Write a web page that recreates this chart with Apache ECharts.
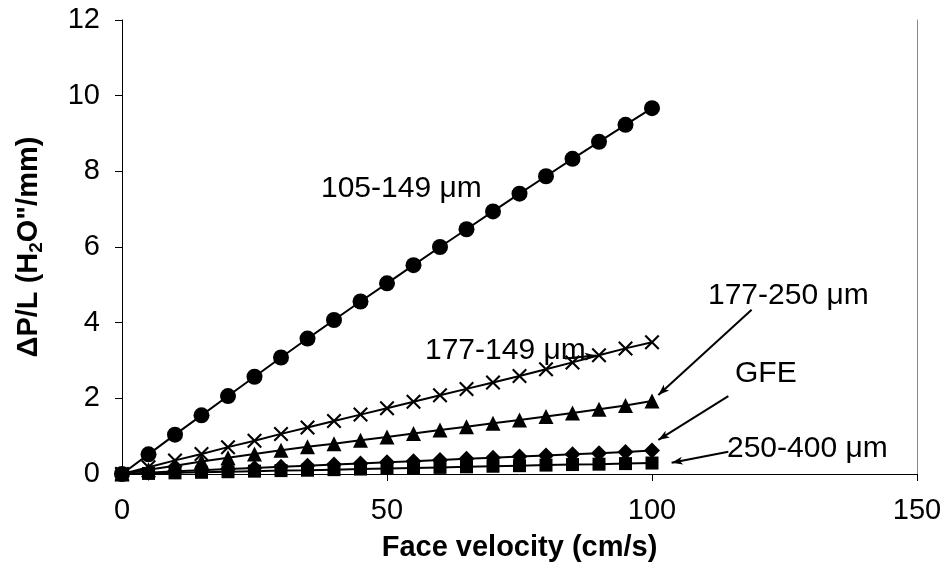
<!DOCTYPE html>
<html>
<head>
<meta charset="utf-8">
<script src="https://cdn.jsdelivr.net/npm/echarts@6/dist/echarts.min.js"></script>
<style>html,body{margin:0;padding:0;background:#fff}#c{width:949px;height:578px}</style>
</head>
<body>
<div id="c"></div>
<script>
var velocity = [0,5,10,15,20,25,30,35,40,45,50,55,60,65,70,75,80,85,90,95,100];
var s105_149 = [0,0.52,1.04,1.55,2.06,2.57,3.08,3.58,4.07,4.56,5.04,5.52,6.00,6.47,6.94,7.41,7.87,8.33,8.78,9.23,9.67];
var s177_149 = [0,0.18,0.36,0.53,0.71,0.88,1.06,1.23,1.40,1.57,1.74,1.91,2.08,2.25,2.42,2.59,2.77,2.95,3.14,3.32,3.48];
var s177_250 = [0,0.11,0.22,0.33,0.43,0.53,0.63,0.72,0.80,0.89,0.98,1.07,1.16,1.25,1.34,1.43,1.52,1.61,1.71,1.81,1.93];
var sGFE = [0,0.03,0.07,0.10,0.13,0.16,0.19,0.22,0.25,0.28,0.31,0.34,0.37,0.40,0.43,0.46,0.49,0.52,0.55,0.58,0.62];
var s250_400 = [0,0.015,0.03,0.045,0.06,0.075,0.09,0.10,0.115,0.13,0.145,0.16,0.175,0.19,0.205,0.22,0.235,0.25,0.26,0.275,0.29];
var xTicks = [0,50,100,150];
var yTicks = [0,2,4,6,8,10,12];
var labels = ['105-149 \u03bcm','177-149 \u03bcm','177-250 \u03bcm','GFE','250-400 \u03bcm'];

var FONT = '"Liberation Sans", Arial, sans-serif';
function pairs(ys){ return velocity.map(function(x,i){ return [x, ys[i]]; }); }
var crossPath = 'path://M0,1.4L1.4,0L7,5.6L12.6,0L14,1.4L8.4,7L14,12.6L12.6,14L7,8.4L1.4,14L0,12.6L5.6,7Z';

function ser(name, ys, sym, size){
  return {
    name: name, type: 'line', data: pairs(ys), symbol: sym, symbolSize: size,
    showSymbol: true, lineStyle: {color: '#000', width: 2}, itemStyle: {color: '#000'},
    z: 3, animation: false, silent: true
  };
}
var series = [
  ser(labels[0], s105_149, 'circle', 16),
  ser(labels[1], s177_149, crossPath, 15),
  ser(labels[2], s177_250, 'triangle', 15),
  ser(labels[3], sGFE, 'diamond', 16),
  ser(labels[4], s250_400, 'rect', 13)
];
// arrows (data coordinates)
series.push({
  type: 'line', data: [], silent: true, animation: false,
  markLine: {
    silent: true, animation: false, symbol: ['none','arrow'], symbolSize: [6, 11],
    label: {show: false}, lineStyle: {color: '#000', width: 2, type: 'solid'},
    data: [
      [{coord:[118.8,4.34]},{coord:[101.2,2.09]}],
      [{coord:[114.4,2.06]},{coord:[101.2,0.90]}],
      [{coord:[114.4,0.59]},{coord:[103.7,0.30]}],
      [{coord:[83.6,3.05]},{coord:[89.4,3.13]}]
    ]
  }
});

var chart = echarts.init(document.getElementById('c'));
chart.setOption({
  backgroundColor: '#fff',
  animation: false,
  grid: {left: 122, right: 32, top: 20, bottom: 104, containLabel: false},
  xAxis: {
    type: 'value', min: xTicks[0], max: xTicks[xTicks.length-1], interval: 50,
    name: 'Face velocity (cm/s)', nameLocation: 'middle', nameGap: 59,
    nameTextStyle: {fontFamily: FONT, fontSize: 29, fontWeight: 'bold', color: '#000'},
    axisLine: {show: true, lineStyle: {color: '#000', width: 1}},
    axisTick: {show: true, inside: false, length: 7, lineStyle: {color: '#000'}},
    axisLabel: {fontFamily: FONT, fontSize: 29, color: '#000', margin: 22},
    splitLine: {show: false}
  },
  yAxis: [{
    type: 'value', min: yTicks[0], max: yTicks[yTicks.length-1], interval: 2,
    name: '{a|\u0394P/L (H}{s|2}{a|O"/mm)}', nameLocation: 'middle', nameGap: 76,
    nameTextStyle: {
      rich: {
        a: {fontFamily: FONT, fontSize: 29, fontWeight: 'bold', color: '#000', lineHeight: 34},
        s: {fontFamily: FONT, fontSize: 19, fontWeight: 'bold', color: '#000', lineHeight: 22, verticalAlign: 'bottom'}
      }
    },
    axisLine: {show: true, lineStyle: {color: '#000', width: 1}},
    axisTick: {show: true, inside: false, length: 7, lineStyle: {color: '#000'}},
    axisLabel: {fontFamily: FONT, fontSize: 29, color: '#000', margin: 22},
    splitLine: {show: false}
  }, {
    type: 'value', position: 'right', min: 0, max: 12, interval: 2,
    axisLine: {show: true, lineStyle: {color: '#888', width: 1}},
    axisTick: {show: false}, axisLabel: {show: false}, splitLine: {show: false}
  }],
  series: series,
  graphic: [
    {type: 'text', x: 321, y: 189, silent: true, style: {text: labels[0], font: '30px ' + FONT, fill: '#000', textAlign: 'left', textVerticalAlign: 'middle', align: 'left', verticalAlign: 'middle'}},
    {type: 'text', x: 425, y: 351, silent: true, style: {text: labels[1], font: '30px ' + FONT, fill: '#000', textAlign: 'left', textVerticalAlign: 'middle', align: 'left', verticalAlign: 'middle'}},
    {type: 'text', x: 708, y: 296, silent: true, style: {text: labels[2], font: '30px ' + FONT, fill: '#000', textAlign: 'left', textVerticalAlign: 'middle', align: 'left', verticalAlign: 'middle'}},
    {type: 'text', x: 735, y: 374, silent: true, style: {text: labels[3], font: '30px ' + FONT, fill: '#000', textAlign: 'left', textVerticalAlign: 'middle', align: 'left', verticalAlign: 'middle'}},
    {type: 'text', x: 727, y: 449, silent: true, style: {text: labels[4], font: '30px ' + FONT, fill: '#000', textAlign: 'left', textVerticalAlign: 'middle', align: 'left', verticalAlign: 'middle'}}
  ]
});
</script>
</body>
</html>
